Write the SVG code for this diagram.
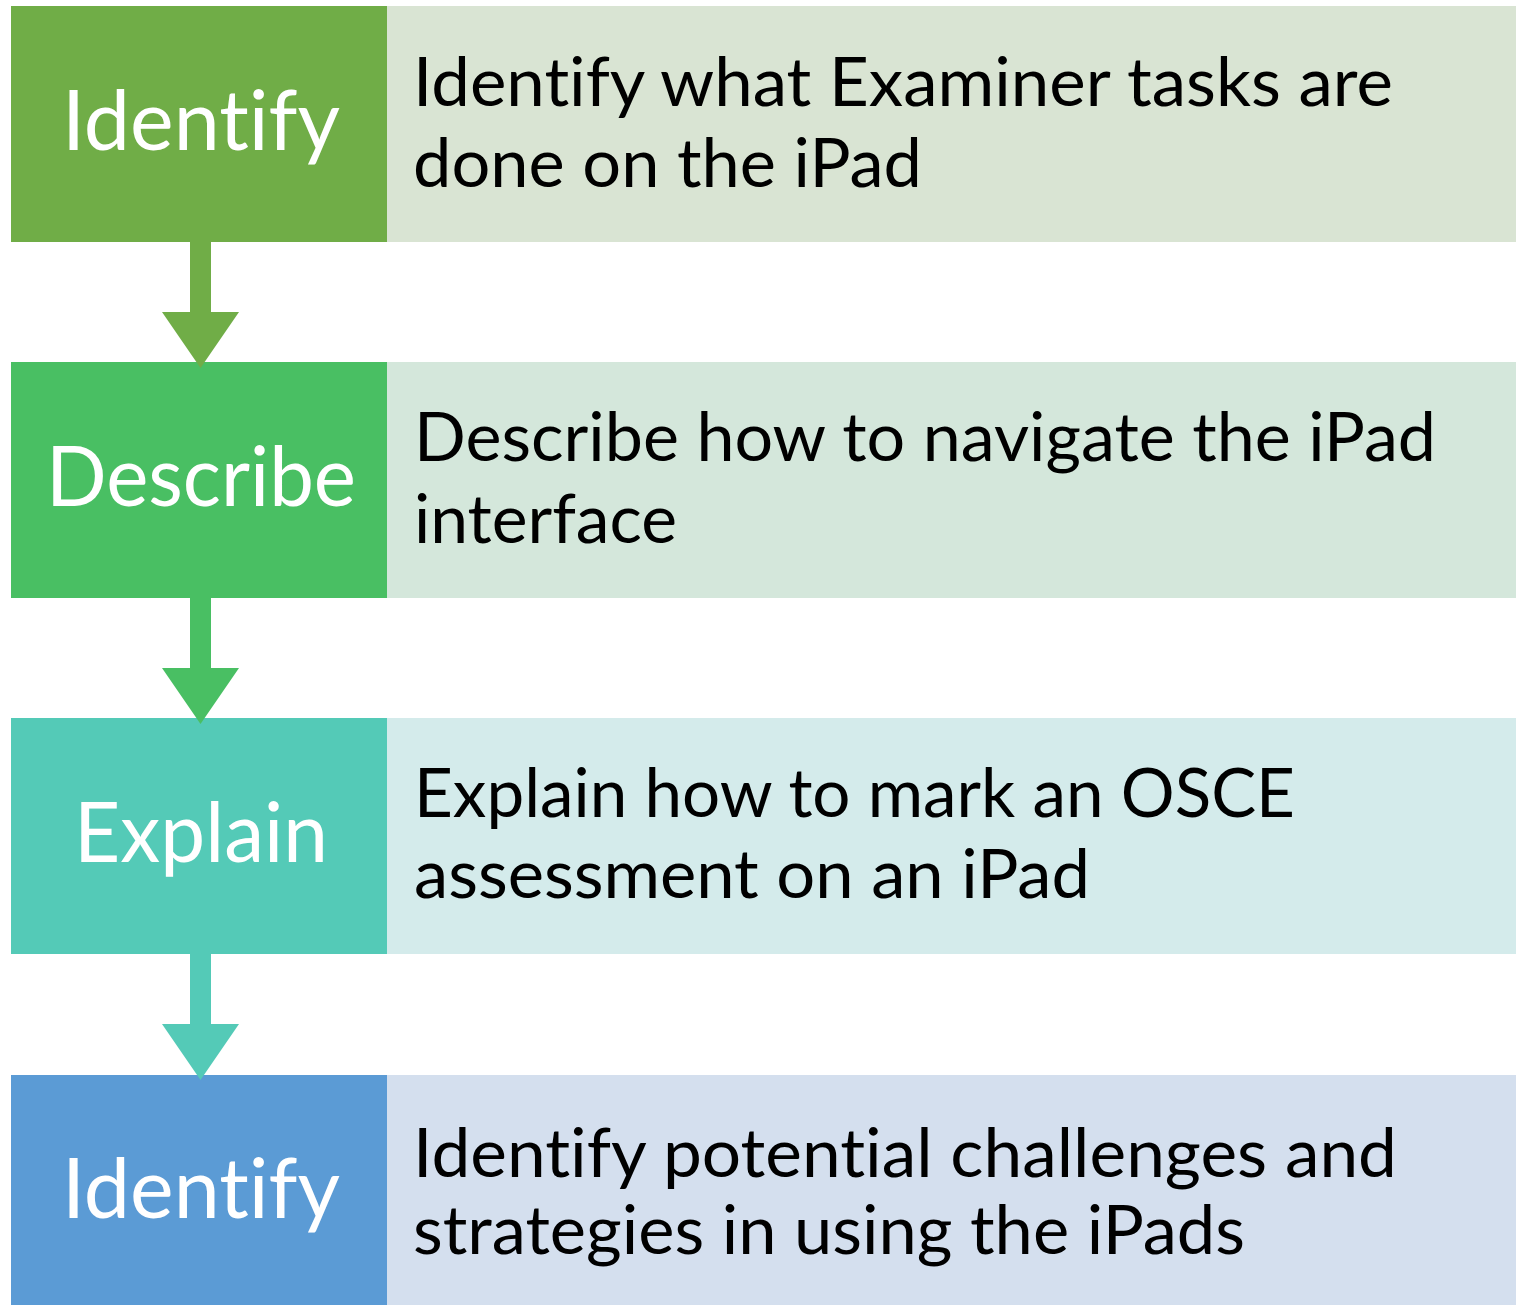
<svg xmlns="http://www.w3.org/2000/svg" width="1526" height="1305" viewBox="0 0 1526 1305">
<style>
.lbl{font-family:Lato,"Open Sans","Liberation Sans",sans-serif;font-size:83px;fill:#ffffff;text-anchor:middle;font-variant-ligatures:none;font-feature-settings:"liga" 0}
.txt{font-family:Lato,"Open Sans","Liberation Sans",sans-serif;font-size:68px;fill:#000000;font-variant-ligatures:none;font-feature-settings:"liga" 0}
</style>
<rect width="1526" height="1305" fill="#ffffff"/>
<g id="node1">
<rect x="387" y="6" width="1129" height="236" fill="#D9E4D3"/>
<rect x="11" y="6" width="376" height="236" fill="#70AD47"/>
<text class="lbl" x="201" y="150" textLength="278" lengthAdjust="spacingAndGlyphs">Identify</text>
<text class="txt" x="413" y="106" textLength="980" lengthAdjust="spacingAndGlyphs">Identify what Examiner tasks are</text>
<text class="txt" x="413" y="187" textLength="509" lengthAdjust="spacingAndGlyphs">done on the iPad</text>
</g>
<g id="node2">
<rect x="387" y="362" width="1129" height="236" fill="#D4E7DB"/>
<rect x="11" y="362" width="376" height="236" fill="#49BF63"/>
<text class="lbl" x="201" y="506" textLength="310" lengthAdjust="spacingAndGlyphs">Describe</text>
<text class="txt" x="414" y="461" textLength="1022" lengthAdjust="spacingAndGlyphs">Describe how to navigate the iPad</text>
<text class="txt" x="414" y="543" textLength="263" lengthAdjust="spacingAndGlyphs">interface</text>
</g>
<g id="node3">
<rect x="387" y="718" width="1129" height="236" fill="#D4EBEB"/>
<rect x="11" y="718" width="376" height="236" fill="#54CAB7"/>
<text class="lbl" x="201" y="862" textLength="254" lengthAdjust="spacingAndGlyphs">Explain</text>
<text class="txt" x="414" y="817" textLength="881" lengthAdjust="spacingAndGlyphs">Explain how to mark an OSCE</text>
<text class="txt" x="414" y="898" textLength="676" lengthAdjust="spacingAndGlyphs">assessment on an iPad</text>
</g>
<g id="node4">
<rect x="387" y="1075" width="1129" height="236" fill="#D4DFEE"/>
<rect x="11" y="1075" width="376" height="236" fill="#5B9BD5"/>
<text class="lbl" x="201" y="1218" textLength="278" lengthAdjust="spacingAndGlyphs">Identify</text>
<text class="txt" x="413" y="1177" textLength="984" lengthAdjust="spacingAndGlyphs">Identify potential challenges and</text>
<text class="txt" x="413" y="1254" textLength="832" lengthAdjust="spacingAndGlyphs">strategies in using the iPads</text>
</g>
<g id="connectors">
<path d="M190,242 H211 V312 H239 L200.5,368 L162,312 H190 Z" fill="#70AD47"/>
<path d="M190,598 H211 V668 H239 L200.5,724 L162,668 H190 Z" fill="#49BF63"/>
<path d="M190,954 H211 V1024 H239 L200.5,1080 L162,1024 H190 Z" fill="#54CAB7"/>
</g>
</svg>
